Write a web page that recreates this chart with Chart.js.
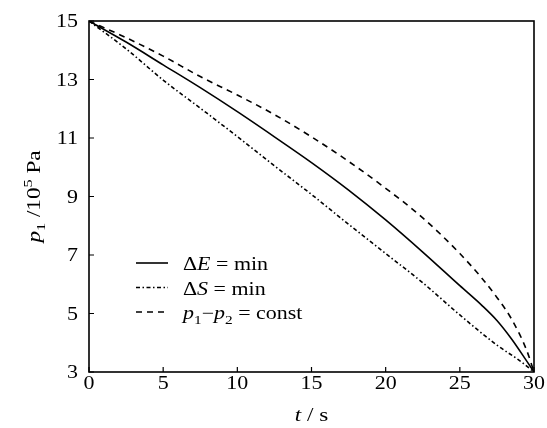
<!DOCTYPE html>
<html>
<head>
<meta charset="utf-8">
<script src="https://cdn.jsdelivr.net/npm/chart.js@4"></script>
<style>
  body { margin: 0; background: #fff; }
  #wrap { width: 547px; height: 428px; }
</style>
</head>
<body>
<div id="wrap"><canvas id="pressure"></canvas></div>
<script>
// t in seconds, p1 in 10^5 Pa
var T_E = [0, 2.5, 5, 7.5, 10, 12.5, 15, 17.5, 20, 22.5, 25, 26.5, 27.5, 28.5, 29.5, 30];
var P_E = [15, 14.28, 13.5, 12.72, 11.9, 11.04, 10.16, 9.22, 8.2, 7.1, 5.95, 5.27, 4.76, 4.12, 3.38, 3];

var T_S = [0, 2.5, 5, 7.5, 10, 12.5, 15, 17.5, 20, 22.5, 25, 27.5, 29, 30];
var P_S = [15, 14.05, 12.98, 12.02, 11.05, 10.05, 9.07, 8.05, 7.05, 6.05, 4.95, 3.92, 3.4, 3];

var T_C = [0, 2.5, 5, 7.5, 10, 12.5, 15, 17.5, 20, 22.5, 25, 26.5, 27.5, 28.5, 29.5, 30];
var P_C = [15, 14.43, 13.8, 13.1, 12.47, 11.8, 11.04, 10.2, 9.28, 8.27, 7.05, 6.2, 5.55, 4.8, 3.75, 3];

var X_TICKS = [0, 5, 10, 15, 20, 25, 30];
var Y_TICKS = [3, 5, 7, 9, 11, 13, 15];

const FONT = '"Liberation Serif", "DejaVu Serif", serif';
const STRETCH = 1.22;
const DASH_E = [];
const DASH_S = [4, 2.5, 1.5, 2.5];
const DASH_C = [6, 5];

function toPoints(xs, ys) {
    return xs.map(function (x, i) { return {x: x, y: ys[i]}; });
}

function makeSet(label, xs, ys, dash) {
    return {
        label: label,
        data: toPoints(xs, ys),
        borderColor: '#000',
        borderWidth: 1.6,
        borderDash: dash,
        pointRadius: 0,
        fill: false,
        cubicInterpolationMode: 'monotone'
    };
}

// draws a run of text pieces {t, it, sub, sup}, stretched sideways like the reference
function drawRich(ctx, segs, x, y, size, align) {
    var fontOf = function (s) {
        var sz = (s.sub || s.sup) ? size * 0.7 : size;
        return (s.it ? 'italic ' : '') + sz + 'px ' + FONT;
    };
    var total = 0;
    segs.forEach(function (s) { ctx.font = fontOf(s); total += ctx.measureText(s.t).width; });
    var start = 0;
    if (align === 'center') start = -total / 2;
    if (align === 'right') start = -total;
    ctx.save();
    ctx.translate(x, y);
    ctx.scale(STRETCH, 1);
    ctx.textAlign = 'left';
    ctx.textBaseline = 'alphabetic';
    var cx = start;
    segs.forEach(function (s) {
        ctx.font = fontOf(s);
        var dy = s.sub ? size * 0.25 : (s.sup ? -size * 0.4 : 0);
        ctx.fillText(s.t, cx, dy);
        cx += ctx.measureText(s.t).width;
    });
    ctx.restore();
}

var LEGEND = [
    {dash: DASH_E, segs: [{t: 'Δ'}, {t: 'E', it: true}, {t: ' = min'}]},
    {dash: DASH_S, segs: [{t: 'Δ'}, {t: 'S', it: true}, {t: ' = min'}]},
    {dash: DASH_C, segs: [{t: 'p', it: true}, {t: '1', sub: true}, {t: '−'}, {t: 'p', it: true}, {t: '2', sub: true}, {t: ' = const'}]}
];

var framePlugin = {
    id: 'frame',
    afterDraw: function (chart) {
        var ctx = chart.ctx;
        var a = chart.chartArea;
        var xs = chart.scales.x, ys = chart.scales.y;
        ctx.save();
        ctx.strokeStyle = '#000';
        ctx.fillStyle = '#000';
        ctx.lineWidth = 1.6;
        ctx.setLineDash([]);
        ctx.strokeRect(a.left, a.top, a.right - a.left, a.bottom - a.top);
        ctx.lineWidth = 1.2;
        ctx.beginPath();
        X_TICKS.forEach(function (v) {
            var px = xs.getPixelForValue(v);
            ctx.moveTo(px, a.bottom);
            ctx.lineTo(px, a.bottom - 5);
            drawRich(ctx, [{t: String(v)}], px, a.bottom + 17, 18, 'center');
        });
        Y_TICKS.forEach(function (v) {
            var py = ys.getPixelForValue(v);
            ctx.moveTo(a.left, py);
            ctx.lineTo(a.left + 5, py);
            drawRich(ctx, [{t: String(v)}], a.left - 11, py + 6, 18, 'right');
        });
        ctx.stroke();

        // legend
        LEGEND.forEach(function (row, i) {
            var y = 263 + i * 24.5;
            ctx.lineWidth = 1.6;
            ctx.setLineDash(row.dash);
            ctx.beginPath();
            ctx.moveTo(136, y);
            ctx.lineTo(168, y);
            ctx.stroke();
            ctx.setLineDash([]);
            drawRich(ctx, row.segs, 183, y + 7, 18, 'left');
        });

        // axis titles
        drawRich(ctx, [{t: 't', it: true}, {t: ' / s'}], (a.left + a.right) / 2, 421, 19, 'center');
        ctx.save();
        ctx.translate(40, (a.top + a.bottom) / 2);
        ctx.rotate(-Math.PI / 2);
        drawRich(ctx, [{t: 'p', it: true}, {t: '1', sub: true}, {t: ' /10'}, {t: '5', sup: true}, {t: ' Pa'}], 0, 0, 19, 'center');
        ctx.restore();
        ctx.restore();
    }
};

new Chart(document.getElementById('pressure'), {
    type: 'line',
    data: {
        datasets: [
            makeSet('ΔE=min', T_E, P_E, DASH_E),
            makeSet('ΔS=min', T_S, P_S, DASH_S),
            makeSet('p1-p2=const', T_C, P_C, DASH_C)
        ]
    },
    options: {
        responsive: true,
        maintainAspectRatio: false,
        animation: false,
        layout: {padding: {top: 21, right: 13, left: 0, bottom: 0}},
        plugins: {legend: {display: false}, tooltip: {enabled: false}},
        scales: {
            x: {
                type: 'linear',
                min: 0,
                max: 30,
                afterFit: function (s) { s.height = 56; },
                grid: {display: false, drawTicks: false},
                border: {display: false},
                ticks: {display: false}
            },
            y: {
                type: 'linear',
                min: 3,
                max: 15,
                afterFit: function (s) { s.width = 89; },
                grid: {display: false, drawTicks: false},
                border: {display: false},
                ticks: {display: false}
            }
        }
    },
    plugins: [framePlugin]
});
</script>
</body>
</html>
